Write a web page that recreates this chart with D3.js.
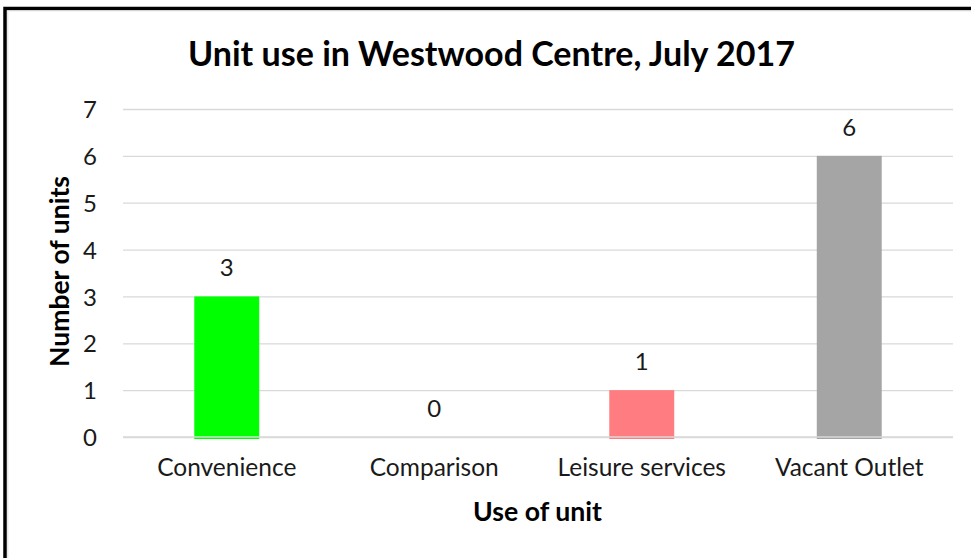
<!DOCTYPE html>
<html><head><meta charset="utf-8">
<script src="https://cdn.jsdelivr.net/npm/d3@7"></script>
<style>html,body{margin:0;padding:0;background:#fff;overflow:hidden}</style>
</head><body>
<svg id="c" width="971" height="558"></svg>
<script>
const categories = ["Convenience", "Comparison", "Leisure services", "Vacant Outlet"];
const values = [3, 0, 1, 6];
const barColors = ["#00FF00", "#5B9BD5", "#FF7C80", "#A5A5A5"];
const yTicks = [0, 1, 2, 3, 4, 5, 6, 7];
const title = "Unit use in Westwood Centre, July 2017";
const xTitle = "Use of unit";
const yTitle = "Number of units";

const svg = d3.select("#c");
const font = "Lato, 'Open Sans', sans-serif";
const m = {left: 123, right: 953, top: 109, bottom: 437};

// frame
svg.append("rect").attr("x", 5).attr("y", 8.5).attr("width", 1000).attr("height", 600)
  .attr("fill", "none").attr("stroke", "#000").attr("stroke-width", 3.5);
svg.append("line").attr("x1", 7.5).attr("x2", 971).attr("y1", 10.8).attr("y2", 10.8).attr("stroke", "#ddd").attr("stroke-width", 1);
svg.append("line").attr("x1", 7.8).attr("x2", 7.8).attr("y1", 10.5).attr("y2", 558).attr("stroke", "#ddd").attr("stroke-width", 1);

const x = d3.scaleBand().domain(categories).range([m.left, m.right]).paddingInner(0.687).paddingOuter(0.3435);
const y = d3.scaleLinear().domain([0, 7]).range([m.bottom, m.top]);

// gridlines
const yAxis = d3.axisLeft(y).tickValues(yTicks).tickSize(-(m.right - m.left)).tickFormat(d3.format("d")).tickPadding(26);
const gy = svg.append("g").attr("transform", `translate(${m.left},0)`).call(yAxis);
gy.select(".domain").remove();
gy.selectAll(".tick line").attr("stroke", "#D9D9D9").attr("stroke-width", 1.3);
gy.selectAll(".tick text").attr("font-family", font).attr("font-size", 24).attr("fill", "#1a1a1a").attr("dy", "0.36em");

// bars
svg.append("g").selectAll("rect").data(values).join("rect")
  .attr("x", (d, i) => x(categories[i]))
  .attr("width", x.bandwidth())
  .attr("y", d => y(d))
  .attr("height", d => y(0) - y(d) + (d > 0 ? 2 : 0))
  .attr("fill", (d, i) => barColors[i]);

// x axis line
const xAxis = d3.axisBottom(x).tickSize(0).tickPadding(22);
const gx = svg.append("g").attr("transform", `translate(0,${m.bottom})`).call(xAxis);
gx.select(".domain").attr("stroke", "#D9D9D9").attr("stroke-width", 1.6).attr("d", `M${m.left},0H${m.right}`);
gx.selectAll(".tick text").attr("font-family", font).attr("font-size", 24.5).attr("fill", "#1a1a1a").attr("dy", "0.7em");

// data labels
svg.append("g").selectAll("text").data(values).join("text")
  .attr("x", (d, i) => x(categories[i]) + x.bandwidth() / 2)
  .attr("y", d => y(d) - 20)
  .attr("text-anchor", "middle")
  .attr("font-family", font).attr("font-size", 24).attr("fill", "#1a1a1a")
  .text(d => d);

// titles
function fit(sel, w) {
  const n = sel.node(); const cur = n.getComputedTextLength();
  const fs = parseFloat(sel.attr("font-size"));
  sel.attr("font-size", fs * w / cur);
}
const t = svg.append("text").attr("x", 491.5).attr("y", 66).attr("text-anchor", "middle")
  .attr("font-family", font).attr("font-weight", "bold").attr("font-size", 31).attr("fill", "#000").text(title);
fit(t, 607);
const xt = svg.append("text").attr("x", 537.5).attr("y", 521).attr("text-anchor", "middle")
  .attr("font-family", font).attr("font-weight", "bold").attr("font-size", 23).attr("fill", "#000").text(xTitle);
fit(xt, 129);
const yt = svg.append("text").attr("transform", "translate(69,271.5) rotate(-90)").attr("text-anchor", "middle")
  .attr("font-family", font).attr("font-weight", "bold").attr("font-size", 23).attr("fill", "#000").text(yTitle);
fit(yt, 191);
</script>
</body></html>
